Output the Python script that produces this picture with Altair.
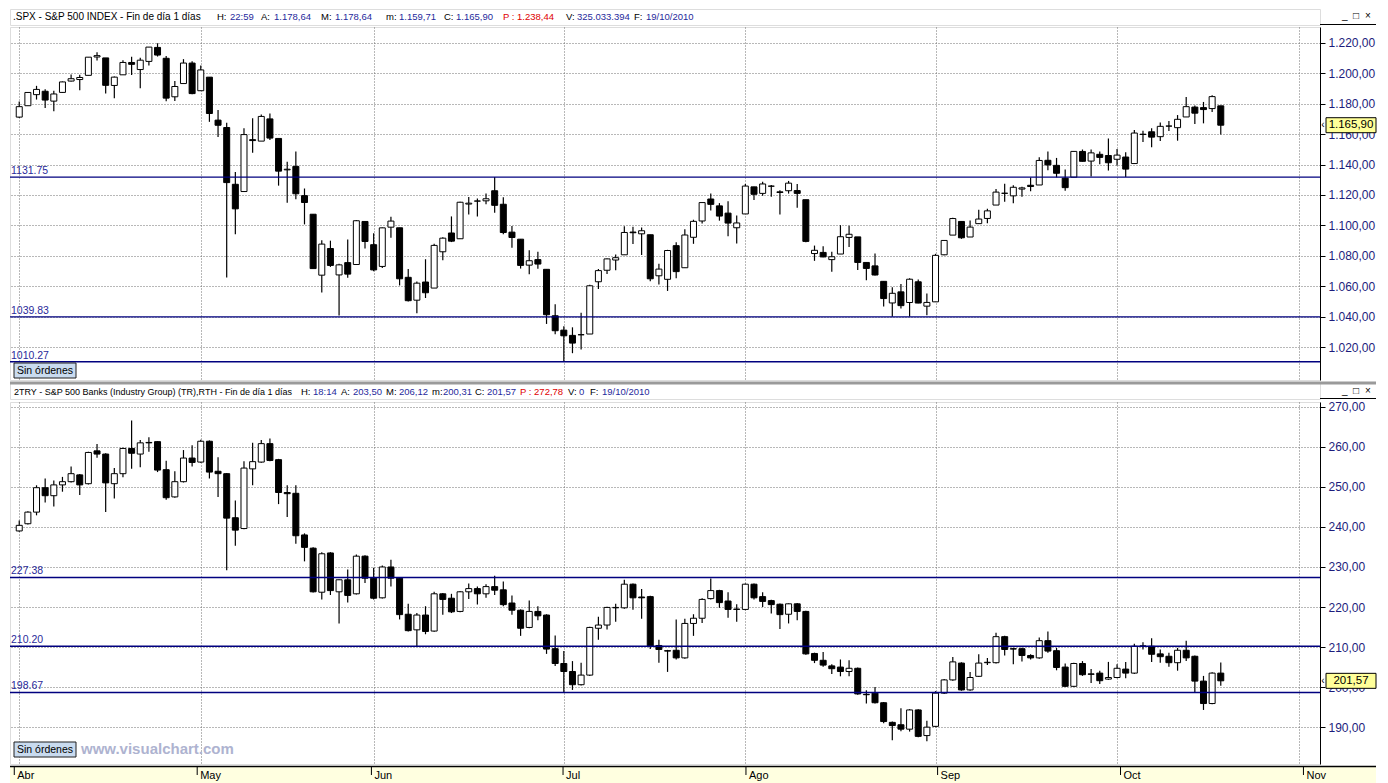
import altair as alt
import pandas as pd

FONT = "Liberation Sans"

# ---------------- S&P 500 INDEX (SPX), daily, 1-Apr-2010 .. 19-Oct-2010 ----------------
spx_open = [
    1171.23, 1178.71, 1186.01, 1188.23, 1181.75, 1187.47, 1194.94, 1195.94, 1198.69, 1210.77,
    1210.17, 1192.06, 1199.04, 1207.16, 1202.52, 1207.87, 1217.07, 1209.92, 1184.59, 1193.30, 1206.77,
    1188.58, 1197.50, 1169.24, 1164.38, 1127.04, 1122.27, 1156.39, 1155.43, 1170.04, 1157.19,
    1136.52, 1138.78, 1119.57, 1107.34, 1067.26, 1084.78, 1067.42, 1075.51, 1074.27, 1102.59,
    1087.30, 1073.01, 1098.82, 1098.43, 1065.84, 1050.81, 1062.75, 1058.77, 1082.65, 1095.00,
    1091.21, 1114.02, 1115.98, 1116.16, 1122.79, 1113.90, 1095.57, 1090.93, 1073.86, 1077.50, 1071.10, 1040.56,
    1031.10, 1027.65, 1028.09, 1028.54, 1062.92, 1070.50, 1077.23, 1080.65, 1095.61, 1094.46,
    1093.85, 1066.85, 1064.53, 1086.67, 1072.14, 1092.17, 1102.89, 1117.36, 1112.84, 1108.07, 1098.44,
    1107.53, 1125.34, 1121.06, 1125.78, 1122.07, 1122.80, 1122.92, 1116.89, 1081.48, 1082.22,
    1077.49, 1081.16, 1092.08, 1092.44, 1075.63, 1073.36, 1063.20, 1048.98, 1056.28, 1049.27, 1062.90, 1046.88,
    1049.72, 1080.66, 1093.61, 1102.60, 1092.36, 1101.15, 1104.57, 1113.38, 1121.16, 1119.43,
    1123.89, 1126.39, 1126.57, 1142.82, 1139.49, 1131.10, 1131.69, 1148.64, 1142.31, 1146.75, 1145.97,
    1143.49, 1144.96, 1140.68, 1159.81, 1161.57, 1158.36, 1165.32, 1164.28, 1171.32, 1177.82,
    1177.47, 1176.83, 1178.64,
]
spx_high = [
    1181.43, 1187.73, 1191.80, 1189.60, 1188.55, 1194.66, 1199.20, 1199.04, 1210.65, 1213.92,
    1210.17, 1197.87, 1208.58, 1210.99, 1210.27, 1217.28, 1219.80, 1211.38, 1195.05, 1209.36, 1207.99,
    1205.13, 1197.50, 1175.95, 1167.58, 1135.13, 1163.85, 1170.48, 1172.87, 1173.57, 1157.19,
    1141.88, 1148.66, 1124.27, 1107.34, 1090.16, 1089.95, 1074.75, 1090.75, 1103.52, 1102.59,
    1094.77, 1098.56, 1105.67, 1098.43, 1071.36, 1063.15, 1077.74, 1087.85, 1092.25, 1105.91,
    1115.59, 1118.74, 1117.72, 1121.01, 1131.75, 1118.50, 1099.64, 1090.93, 1083.60, 1082.60, 1071.10, 1048.08,
    1033.58, 1032.95, 1042.50, 1060.89, 1071.25, 1078.16, 1080.78, 1099.46, 1099.08, 1098.66,
    1093.85, 1074.70, 1083.94, 1088.96, 1097.50, 1103.73, 1115.01, 1120.95, 1114.66, 1115.90, 1106.44,
    1127.30, 1125.44, 1128.75, 1126.56, 1123.06, 1129.24, 1127.16, 1116.89, 1086.72, 1086.25,
    1082.62, 1100.14, 1099.77, 1092.44, 1075.63, 1081.58, 1063.20, 1059.38, 1061.45, 1065.21, 1064.40, 1055.14,
    1081.30, 1090.10, 1105.10, 1102.60, 1103.26, 1110.27, 1110.88, 1123.87, 1127.36, 1126.46,
    1125.44, 1131.47, 1144.86, 1148.59, 1144.38, 1136.77, 1148.90, 1149.92, 1150.00, 1148.63, 1157.16,
    1150.30, 1148.16, 1162.76, 1162.33, 1163.87, 1167.73, 1168.68, 1172.58, 1184.38, 1178.89,
    1181.20, 1185.53, 1178.64,
]
spx_low = [
    1170.69, 1178.71, 1182.77, 1177.25, 1175.12, 1187.15, 1194.71, 1188.82, 1198.69, 1208.50,
    1186.77, 1183.68, 1199.04, 1198.85, 1190.19, 1205.10, 1211.07, 1181.62, 1181.81, 1193.30, 1186.32,
    1188.58, 1168.12, 1158.15, 1065.79, 1094.15, 1122.27, 1147.71, 1155.43, 1156.14, 1126.14,
    1114.96, 1117.20, 1100.66, 1071.58, 1055.90, 1072.70, 1040.78, 1065.59, 1074.27, 1084.78,
    1069.89, 1072.03, 1091.81, 1060.50, 1049.86, 1042.17, 1052.25, 1058.77, 1077.12, 1089.03,
    1091.21, 1107.13, 1105.87, 1113.93, 1108.24, 1094.18, 1085.31, 1071.60, 1067.89, 1071.45, 1035.18, 1028.33,
    1010.27, 1015.93, 1018.35, 1028.54, 1058.24, 1068.10, 1070.45, 1080.65, 1087.68, 1080.53,
    1063.32, 1061.11, 1056.88, 1065.25, 1072.14, 1087.88, 1101.30, 1109.78, 1103.11, 1092.82, 1088.01,
    1107.53, 1116.76, 1119.46, 1118.81, 1107.17, 1120.91, 1111.58, 1088.99, 1076.69, 1079.00,
    1069.49, 1081.16, 1085.76, 1070.66, 1063.91, 1067.08, 1046.68, 1039.83, 1045.40, 1040.00, 1048.79, 1040.88,
    1049.72, 1080.39, 1093.61, 1091.15, 1092.36, 1101.15, 1101.41, 1113.38, 1115.58, 1114.63,
    1118.88, 1122.43, 1126.57, 1136.22, 1131.58, 1122.79, 1131.69, 1142.00, 1132.09, 1140.26, 1136.08,
    1139.42, 1131.87, 1140.68, 1154.85, 1151.41, 1155.58, 1162.02, 1155.71, 1171.32, 1166.71,
    1167.12, 1174.55, 1159.71,
]
spx_close = [
    1178.10, 1187.44, 1189.44, 1182.45, 1186.44, 1194.37, 1196.48, 1197.30, 1210.65, 1211.67,
    1192.13, 1197.52, 1207.17, 1205.94, 1208.67, 1217.28, 1212.05, 1183.71, 1191.36, 1206.78, 1186.69,
    1202.26, 1173.60, 1165.87, 1128.15, 1110.88, 1159.73, 1155.79, 1171.67, 1157.44, 1135.68,
    1136.94, 1120.80, 1115.05, 1071.59, 1087.69, 1073.65, 1074.03, 1067.95, 1103.06, 1089.41,
    1070.71, 1098.38, 1102.83, 1064.88, 1050.47, 1062.00, 1055.69, 1086.84, 1091.60, 1089.63,
    1115.23, 1114.61, 1116.04, 1117.51, 1113.20, 1095.31, 1092.04, 1073.69, 1076.76, 1074.57, 1041.24, 1030.71,
    1027.37, 1022.58, 1028.06, 1060.27, 1070.25, 1077.96, 1078.75, 1095.34, 1095.17, 1096.48,
    1064.88, 1071.25, 1083.48, 1069.59, 1093.67, 1102.66, 1115.01, 1113.84, 1106.13, 1101.53, 1101.60,
    1125.86, 1120.46, 1127.24, 1125.81, 1121.64, 1127.79, 1121.06, 1089.47, 1083.61, 1079.25,
    1079.38, 1092.54, 1094.16, 1075.63, 1071.69, 1067.36, 1051.87, 1055.33, 1047.22, 1064.59, 1048.92, 1049.33,
    1080.29, 1090.10, 1104.51, 1091.84, 1098.87, 1104.18, 1109.55, 1121.90, 1121.10, 1125.07,
    1124.66, 1125.59, 1142.71, 1139.78, 1134.28, 1124.83, 1148.67, 1142.16, 1147.70, 1144.73, 1141.20,
    1146.24, 1137.03, 1160.75, 1159.97, 1158.06, 1165.15, 1165.32, 1169.77, 1178.10, 1173.81,
    1176.19, 1184.71, 1165.90,
]

# ---------------- S&P 500 Banks (Industry Group), same days ----------------
bank_open = [
    239.0, 240.8, 243.7, 249.8, 247.8, 250.5, 251.3, 253.0, 250.8, 259.0,
    258.2, 250.8, 253.3, 259.6, 258.2, 261.0, 261.3, 254.3, 247.5, 251.3,
    257.2, 256.2, 261.4, 253.9, 253.3, 242.3, 239.6, 254.5, 256.2, 260.8,
    256.8, 248.6, 248.4, 238.0, 234.7, 223.7, 233.5, 223.8, 226.8, 223.3,
    232.7, 227.2, 222.3, 230.0, 227.2, 218.2, 214.3, 218.0, 214.0, 223.3,
    222.2, 218.9, 223.8, 224.6, 223.3, 225.1, 224.3, 221.0, 219.2, 214.9,
    218.9, 218.0, 209.6, 205.9, 203.9, 200.6, 203.0, 214.7, 215.5, 219.8,
    219.8, 225.7, 222.5, 222.6, 210.4, 209.1, 209.2, 207.3, 215.9, 217.2,
    222.1, 224.1, 221.5, 219.5, 219.4, 225.7, 222.6, 221.6, 220.7, 218.2,
    220.8, 218.9, 208.4, 206.7, 205.3, 205.0, 203.9, 204.7, 198.2, 198.5,
    196.1, 191.2, 190.6, 189.5, 194.3, 187.9, 190.2, 198.5, 201.8, 206.0,
    199.3, 202.7, 206.1, 206.1, 212.6, 209.6, 209.6, 207.9, 207.3, 211.6,
    209.1, 205.0, 200.2, 205.9, 203.3, 203.5, 202.0, 202.4, 204.5, 203.5,
    210.2, 210.2, 208.3, 207.7, 206.1, 209.2, 207.7, 201.5, 195.9, 203.50,
]
bank_high = [
    241.6, 243.9, 250.4, 252.1, 251.6, 252.5, 255.1, 253.2, 258.8, 260.7,
    258.4, 254.7, 259.8, 266.6, 261.7, 262.4, 261.4, 256.5, 253.9, 259.2,
    260.4, 261.8, 261.6, 257.4, 253.5, 246.6, 256.4, 261.0, 261.7, 262.1,
    257.0, 250.4, 250.4, 238.4, 234.9, 233.7, 233.7, 226.9, 229.4, 233.1,
    232.9, 229.8, 230.4, 231.8, 227.4, 220.8, 218.5, 220.2, 223.8, 223.5,
    223.3, 224.0, 225.9, 225.1, 225.7, 227.8, 226.4, 222.9, 219.4, 221.6,
    220.2, 218.2, 212.9, 209.0, 206.5, 206.1, 215.1, 217.6, 220.1, 220.8,
    226.8, 225.9, 224.5, 222.8, 211.8, 209.3, 216.9, 217.1, 218.2, 222.2,
    227.1, 224.3, 223.7, 220.7, 225.9, 225.9, 223.7, 221.8, 220.9, 220.9,
    221.0, 219.1, 208.6, 208.8, 205.7, 206.9, 206.7, 204.9, 199.2, 200.0,
    196.3, 191.4, 194.7, 194.5, 194.5, 191.6, 199.0, 202.0, 207.5, 206.2,
    203.8, 208.2, 207.3, 213.6, 212.8, 209.8, 209.8, 208.2, 212.4, 213.9,
    209.8, 205.9, 206.1, 206.5, 204.5, 204.1, 206.3, 205.7, 206.3, 210.8,
    211.2, 212.2, 209.4, 208.6, 209.8, 211.6, 207.9, 202.8, 203.7, 206.12,
]
bank_low = [
    238.8, 240.6, 242.9, 246.1, 245.1, 248.8, 251.1, 248.0, 250.6, 257.3,
    243.7, 247.1, 252.4, 254.5, 254.9, 258.8, 253.7, 246.8, 247.3, 251.1,
    255.1, 256.0, 252.1, 247.5, 229.2, 235.3, 239.4, 250.4, 256.0, 256.4,
    245.7, 242.5, 235.8, 231.4, 223.6, 221.9, 223.0, 215.9, 221.1, 223.1,
    226.0, 221.9, 222.1, 225.1, 216.9, 213.9, 210.2, 213.2, 213.8, 218.1,
    218.5, 218.7, 222.0, 220.6, 222.3, 223.0, 220.2, 218.1, 212.8, 214.7,
    216.7, 208.3, 205.3, 198.67, 199.3, 200.4, 202.8, 211.8, 214.4, 216.3,
    219.6, 219.3, 217.1, 209.5, 206.1, 203.8, 206.9, 207.1, 212.8, 216.0,
    221.9, 219.8, 217.3, 216.3, 219.2, 221.9, 220.0, 218.4, 214.5, 215.9,
    216.7, 208.1, 206.0, 205.1, 203.3, 202.7, 202.7, 198.1, 195.9, 195.9,
    191.0, 186.7, 189.0, 188.9, 187.5, 186.5, 190.0, 198.3, 201.6, 199.1,
    199.1, 202.5, 205.5, 205.9, 207.9, 205.7, 206.4, 206.9, 207.1, 208.6,
    204.2, 200.0, 200.0, 202.8, 201.0, 200.8, 201.8, 202.2, 202.2, 203.3,
    209.4, 206.3, 206.1, 205.1, 204.1, 206.5, 198.8, 194.3, 195.7, 200.31,
]
bank_close = [
    240.4, 243.7, 249.8, 247.8, 250.5, 251.3, 253.3, 250.5, 258.6, 258.2,
    251.0, 253.3, 259.6, 258.4, 261.0, 261.1, 254.2, 247.3, 251.3, 257.2,
    256.1, 261.4, 253.7, 253.3, 242.2, 239.2, 254.7, 256.3, 260.8, 256.6,
    248.6, 248.3, 237.8, 234.9, 223.8, 233.3, 224.1, 226.8, 222.9, 232.7,
    227.2, 222.2, 230.0, 227.2, 218.1, 214.1, 218.0, 213.9, 223.3, 221.9,
    218.8, 223.8, 224.6, 223.3, 225.1, 224.2, 220.6, 219.2, 214.7, 218.9,
    217.8, 209.5, 205.9, 203.9, 200.6, 203.0, 214.9, 215.5, 219.9, 219.9,
    225.7, 222.3, 222.3, 210.2, 209.4, 209.0, 207.3, 215.9, 217.2, 221.9,
    224.1, 221.1, 219.4, 219.4, 225.7, 222.3, 221.4, 220.6, 218.1, 220.8,
    218.9, 208.3, 206.7, 205.5, 204.6, 203.9, 204.7, 198.3, 198.1, 196.1,
    191.4, 190.4, 189.5, 194.3, 187.7, 190.0, 198.5, 201.8, 206.3, 199.3,
    202.4, 206.0, 206.2, 212.6, 209.4, 209.5, 207.9, 207.3, 211.6, 209.0,
    204.9, 200.2, 205.9, 203.1, 203.2, 201.6, 202.4, 204.7, 203.5, 210.2,
    210.3, 208.2, 207.6, 206.1, 209.2, 207.3, 201.5, 195.9, 203.5, 201.57,
]

# trading-day index of the first session of each month, and month names
month_idx = [0, 21, 41, 63, 84, 106, 127, 148]
month_names = ["Abr", "May", "Jun", "Jul", "Ago", "Sep", "Oct", "Nov"]

spx_levels = [1131.75, 1039.83, 1010.27]
bank_levels = [227.38, 210.20, 198.67]
spx_ticks = [1020, 1040, 1060, 1080, 1100, 1120, 1140, 1160, 1180, 1200, 1220]
bank_ticks = [190, 200, 210, 220, 230, 240, 250, 260, 270]

# ---------------- layout ----------------
W = 1310       # plot width
AX = 56        # right axis width
H1 = 353
H2 = 362
HH1 = 16
HH2 = 17
XA = 18
X_DOMAIN = [-0.49, 149.9]
GRID = "#707070"
NAVY = "#1c1c7c"

one = alt.Data(values=[{"k": 0}])


def es(v):
    return f"{v:,.2f}".replace(",", "_").replace(".", ",").replace("_", ".")


LBL = "replace(replace(replace(format(datum.value, ',.2f'), ',', '_'), '.', ','), '_', '.')"


def panel(o, h, l, c, ydom, H, ticks, levels, btn_top, watermark=False):
    df = pd.DataFrame({"i": list(range(len(c))), "o": o, "h": h, "l": l, "c": c})
    x = alt.X("i:Q", scale=alt.Scale(domain=X_DOMAIN, nice=False, zero=False),
              axis=alt.Axis(values=month_idx, grid=True, labels=False, ticks=False, domain=False,
                            title=None, gridColor=GRID, gridDash=[1, 2], gridWidth=1,
                            minExtent=0, maxExtent=0))
    ysc = alt.Scale(domain=ydom, nice=False, zero=False)
    yax = alt.Axis(orient="right", values=ticks, labelExpr=LBL, grid=True, gridColor=GRID,
                   gridDash=[1, 2], gridWidth=1, tickSize=5, tickColor="black", domainColor="black",
                   domainWidth=1, labelColor=NAVY, labelFontSize=12, labelFont=FONT, labelPadding=3,
                   minExtent=AX, maxExtent=AX, title=None, labelOverlap=False)

    def Y(f):
        return alt.Y(f"{f}:Q", scale=ysc, axis=yax)

    base = alt.Chart(df)
    wick = base.mark_rule(color="black", strokeWidth=1.2).encode(x=x, y=Y("l"), y2="h:Q")
    body = base.mark_bar(size=6, stroke="black", strokeWidth=1, orient="vertical").encode(
        x=x, y=Y("o"), y2="c:Q",
        fill=alt.condition("datum.c < datum.o", alt.value("black"), alt.value("white")))

    lv = pd.DataFrame({"v": levels, "t": [f"{v:.2f}" for v in levels]})
    lines = alt.Chart(lv).mark_rule(color="#00007f", strokeWidth=1.4).encode(y=Y("v"))
    lab = alt.Chart(lv).mark_text(align="left", baseline="alphabetic", dy=-3, fontSize=10.5,
                                  color="#2a2a9a", font=FONT).encode(
        x=alt.value(1), y=Y("v"), text="t:N")

    pc = pd.DataFrame({"c": [c[-1]], "t": [es(c[-1])]})
    box = alt.Chart(pc).mark_point(shape="M-1,-0.3L1,-0.3L1,0.3L-1,0.3Z", size=2500, filled=True,
                                   fill="#ffff99", stroke="black", strokeWidth=1, opacity=1).encode(
        x=alt.value(W + 31), y=Y("c"))
    boxt = alt.Chart(pc).mark_text(fontSize=11.5, color="black", font=FONT).encode(
        x=alt.value(W + 31), y=Y("c"), text="t:N")
    arrow = alt.Chart(pc).mark_text(text="‹", fontSize=10, color="black", font=FONT).encode(
        x=alt.value(W + 3), y=Y("c"))

    btn = alt.Chart(one).mark_rect(fill="#c9dbef", stroke="#202020", strokeWidth=1).encode(
        x=alt.value(4), x2=alt.value(66), y=alt.value(btn_top), y2=alt.value(btn_top + 15))
    btnt = alt.Chart(one).mark_text(text="Sin órdenes", align="left", baseline="middle",
                                    fontSize=10.5, color="black", font=FONT).encode(
        x=alt.value(7), y=alt.value(btn_top + 8))
    layers = [wick, body, lines, lab, box, boxt, arrow, btn, btnt]
    if watermark:
        wm = alt.Chart(one).mark_text(text="www.visualchart.com", align="left", baseline="middle",
                                      fontSize=15, fontWeight="bold", color="#aeb3d0",
                                      font=FONT).encode(
            x=alt.value(71), y=alt.value(btn_top + 7))
        layers.append(wm)
    return alt.layer(*layers).properties(width=W, height=H)


def header(H, ymid, segments, top_line=False):
    layers = []
    if top_line:
        layers.append(alt.Chart(one).mark_rule(color="#9a9a9a", strokeWidth=3).encode(
            x=alt.value(0), x2=alt.value(W + AX), y=alt.value(1)))
    for text, xpos, color, size in segments:
        layers.append(alt.Chart(one).mark_text(text=text, align="left", baseline="middle",
                                               fontSize=size, color=color, font=FONT).encode(
            x=alt.value(xpos), y=alt.value(ymid)))
    for g, gx in [("_", W + 22), ("□", W + 33), ("×", W + 45)]:
        layers.append(alt.Chart(one).mark_text(text=g, align="left", baseline="middle",
                                               fontSize=10, color="black", font=FONT).encode(
            x=alt.value(gx), y=alt.value(ymid - 1)))
    layers.append(alt.Chart(one).mark_rule(color="black", strokeWidth=1).encode(
        x=alt.value(W), x2=alt.value(W + AX), y=alt.value(H - 0.5)))
    return alt.layer(*layers).properties(width=W, height=H)


BLUE = "#1f2a9c"
RED = "#e00000"
V = 9.5
seg1 = [
    (".SPX - S&P 500 INDEX - Fin de día 1 días", 3, "black", 10),
    ("H:", 207, "black", V), ("22:59", 220, BLUE, V),
    ("A:", 251, "black", V), ("1.178,64", 264, BLUE, V),
    ("M:", 311, "black", V), ("1.178,64", 325, BLUE, V),
    ("m:", 376, "black", V), ("1.159,71", 389, BLUE, V),
    ("C:", 434, "black", V), ("1.165,90", 446, BLUE, V),
    ("P : 1.238,44", 493, RED, V),
    ("V:", 556, "black", V), ("325.033.394", 567, BLUE, V),
    ("F:", 624, "black", V), ("19/10/2010", 636, BLUE, V),
]
seg2 = [
    ("2TRY - S&P 500 Banks (Industry Group) (TR),RTH - Fin de día 1 días", 4, "black", 9),
    ("H:", 291, "black", V), ("18:14", 303, BLUE, V),
    ("A:", 331, "black", V), ("203,50", 343, BLUE, V),
    ("M:", 376, "black", V), ("206,12", 389, BLUE, V),
    ("m:", 422, "black", V), ("200,31", 433, BLUE, V),
    ("C:", 465, "black", V), ("201,57", 477, BLUE, V),
    ("P : 272,78", 510, RED, V),
    ("V:", 558, "black", V), ("0", 569, BLUE, V),
    ("F:", 580, "black", V), ("19/10/2010", 592, BLUE, V),
]

head1 = header(HH1, 8, seg1)
head2 = header(HH2, 10, seg2, top_line=True)

p1 = panel(spx_open, spx_high, spx_low, spx_close, [998.3, 1230.5], H1, spx_ticks, spx_levels,
           btn_top=H1 - 17)
p2 = panel(bank_open, bank_high, bank_low, bank_close, [180.8, 271.2], H2, bank_ticks, bank_levels,
           btn_top=H2 - 22, watermark=True)

# bottom date strip
months = pd.DataFrame({"i": month_idx, "name": month_names})
xs = alt.X("i:Q", scale=alt.Scale(domain=X_DOMAIN, nice=False, zero=False), axis=None)
strip = alt.layer(
    alt.Chart(one).mark_rect(fill="#ffffe0").encode(
        x=alt.value(0), x2=alt.value(W + AX), y=alt.value(0), y2=alt.value(XA)),
    alt.Chart(one).mark_rule(color="black", strokeWidth=1.5).encode(
        x=alt.value(0), x2=alt.value(W + AX), y=alt.value(0.5)),
    alt.Chart(months).mark_rule(color="black", strokeWidth=1).encode(
        x=xs, y=alt.value(0), y2=alt.value(9)),
    alt.Chart(months).mark_text(align="left", baseline="top", dx=3, fontSize=11, color="black",
                                font=FONT).encode(x=xs, y=alt.value(4), text="name:N"),
).properties(width=W, height=XA)

chart = alt.vconcat(head1, p1, head2, p2, strip, spacing=0).properties(
    padding=0, background="white"
).configure_view(stroke=None).configure(font=FONT)

chart.save("out.html", embed_options={"renderer": "svg", "actions": False})
